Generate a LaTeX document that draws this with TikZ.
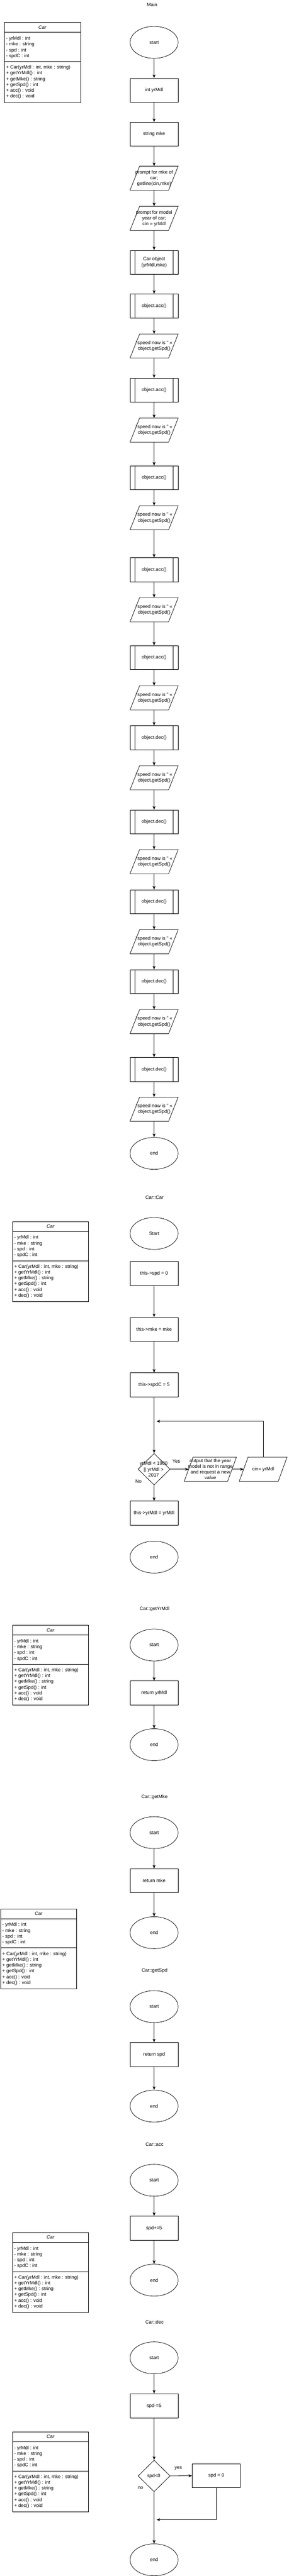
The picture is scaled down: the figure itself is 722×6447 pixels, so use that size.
\documentclass[tikz,border=0pt]{standalone}
\usepackage{fontspec}
\setmainfont{Liberation Sans}
\usetikzlibrary{shapes.geometric, arrows.meta, calc}

\newcommand{\CarBox}[3]{%
  \node[classbox, anchor=north west] (#1) at (#2,#3) {};
  \node[lbl, font=\fontsize{12}{14.4}\selectfont\itshape] at ($(#1.north)+(0,12.5)$) {Car};
  \draw[bx] ($(#1.north west)+(0,25)$) -- ($(#1.north east)+(0,25)$);
  \draw[bx] ($(#1.north west)+(0,98)$) -- ($(#1.north east)+(0,98)$);
  \foreach \t [count=\i from 0] in {{- yrMdl : int},{- mke : string},{- spd : int},{- spdC : int}}
    \node[clsline] at ($(#1.north west)+(4.5,40.5+14.6*\i)$) {\t};
  \foreach \t [count=\i from 0] in {{+ Car(yrMdl : int, mke : string)},{+ getYrMdl() : int},{+ getMke() : string},{+ getSpd() : int},{+ acc() : void},{+ dec() : void}}
    \node[clsline] at ($(#1.north west)+(4.5,113+14.5*\i)$) {\t};
}

\begin{document}
\begin{tikzpicture}[x=1pt, y=-1pt,
  every node/.style={font=\fontsize{12}{14.4}\selectfont},
  bx/.style={draw, line width=1pt},
  term/.style={bx, ellipse, minimum width=120pt, minimum height=80pt, inner sep=0pt},
  proc/.style={bx, rectangle, minimum width=120pt, minimum height=60pt, inner sep=0pt, align=center},
  sub/.style={proc, path picture={
      \draw[line width=1pt] ([xshift=12pt]path picture bounding box.north west) -- ([xshift=12pt]path picture bounding box.south west);
      \draw[line width=1pt] ([xshift=-12pt]path picture bounding box.north east) -- ([xshift=-12pt]path picture bounding box.south east);}},
  io/.style={rectangle, minimum width=120pt, minimum height=60pt, inner sep=0pt, align=center},
  decis/.style={bx, diamond, minimum width=80pt, minimum height=79pt, inner sep=0pt},
  arr/.style={line width=1pt, -{Stealth[length=9pt, width=7pt, inset=2.5pt]}},
  lbl/.style={inner sep=0pt},
  classbox/.style={bx, rectangle, minimum width=190pt, minimum height=200pt, inner sep=0pt},
  clsline/.style={anchor=west, inner sep=0pt, text height=9pt, text depth=2.5pt},
]
\fill[white] (0,0) rectangle (722,6447);
\useasboundingbox (0,0) rectangle (722,6447);

% ---------------- class boxes ----------------
\CarBox{cb1}{10.5}{56}
\CarBox{cb2}{30.8}{3057}
\CarBox{cb3}{30.8}{4067}
\CarBox{cb4}{1}{4777}
\CarBox{cb5}{30.8}{5587}
\CarBox{cb6}{30.8}{6086}

% ---------------- Main ----------------
\node[lbl] (tmain) at (380,12) {Main};
\node[term] (m0) at (385,106) {start};
\node[proc] (m1) at (385,226) {int yrMdl};
\node[proc] (m2) at (385,336) {string mke};
\node[io] (m3) at (385,446) {prompt for mke of\\car;\\getline(cin,mke)};
\node[io] (m4) at (385,546.5) {prompt for model\\year of car;\\cin >> yrMdl};
\node[sub] (m5) at (385,656.5) {Car object\\(yrMdl,mke)};
\node[sub] (a1) at (385,766) {object.acc()};
\node[io] (s1) at (385,866) {"speed now is " <<\\object.getSpd()};
\node[sub] (a2) at (385,976.5) {object.acc()};
\node[io] (s2) at (385,1076.5) {"speed now is " <<\\object.getSpd()};
\node[sub] (a3) at (385,1196) {object.acc()};
\node[io] (s3) at (385,1296) {"speed now is " <<\\object.getSpd()};
\node[sub] (a4) at (385,1426) {object.acc()};
\node[io] (s4) at (385,1526) {"speed now is " <<\\object.getSpd()};
\node[sub] (a5) at (385,1646) {object.acc()};
\node[io] (s5) at (385,1746.5) {"speed now is " <<\\object.getSpd()};
\node[sub] (b1) at (385,1846.5) {object.dec()};
\node[io] (s6) at (385,1946.5) {"speed now is " <<\\object.getSpd()};
\node[sub] (b2) at (385,2057) {object.dec()};
\node[io] (s7) at (385,2156.5) {"speed now is " <<\\object.getSpd()};
\node[sub] (b3) at (385,2257) {object.dec()};
\node[io] (s8) at (385,2357) {"speed now is " <<\\object.getSpd()};
\node[sub] (b4) at (385,2457) {object.dec()};
\node[io] (s9) at (385,2557) {"speed now is " <<\\object.getSpd()};
\node[sub] (b5) at (385,2676.5) {object.dec()};
\node[io] (s10) at (385,2776) {"speed now is " <<\\object.getSpd()};
\node[term] (mend) at (385,2886.5) {end};

\foreach \a/\b in {m0/m1,m1/m2,m2/m3,m3/m4,m4/m5,m5/a1,a1/s1,s1/a2,a2/s2,s2/a3,a3/s3,s3/a4,a4/s4,s4/a5,a5/s5,s5/b1,b1/s6,s6/b2,b2/s7,s7/b3,b3/s8,s8/b4,b4/s9,s9/b5,b5/s10,s10/mend}
  \draw[arr] (\a) -- (\b);

% ---------------- Car::Car ----------------
\node[lbl] (tcar) at (386,2997) {Car::Car};
\node[term] (c0) at (385,3087) {Start};
\node[proc] (c1) at (385,3187) {this->spd = 0};
\node[proc] (c2) at (385,3327) {this->mke = mke};
\node[proc] (c3) at (385,3466) {this->spdC = 5};
\node[decis] (cd) at (385,3677) {};
\node[lbl, align=center] (cdt) at (384,3677) {yrMdl < 1900\\|| yrMdl >\\2017};
\node[io, minimum width=130pt] (co) at (525.5,3677) {output that the year\\model is not in range\\and request a new\\value};
\node[io, minimum width=119pt] (ci) at (657.5,3677) {cin>> yrMdl};
\node[proc] (c4) at (385,3787) {this->yrMdl = yrMdl};
\node[term] (c5) at (385,3897) {end};
\coordinate (cl) at (391,3557);
\node[lbl] (cyes) at (440.5,3657) {Yes};
\node[lbl] (cno) at (346,3707) {No};

\draw[arr] (c1) -- (c2);
\draw[arr] (c2) -- (c3);
\draw[arr] (c3) -- (cd);
\draw[arr] (cd.south) -- (c4);
\draw[arr] (cd.east) -- ($(co.west)+(11,0)$);
\draw[arr] ($(co.east)+(-11,0)$) -- ($(ci.west)+(11,0)$);
\draw[arr] (ci.north) |- (cl);

% ---------------- Car::getYrMdl ----------------
\node[lbl] (tgy) at (386,4027) {Car::getYrMdl};
\node[term] (g0) at (385,4117) {start};
\node[proc] (g1) at (385,4237) {return yrMdl};
\node[term] (g2) at (385,4366.5) {end};
\draw[arr] (g0) -- (g1);
\draw[arr] (g1) -- (g2);

% ---------------- Car::getMke ----------------
\node[lbl] (tgm) at (386,4498) {Car::getMke};
\node[term] (k0) at (385,4586.5) {start};
\node[proc] (k1) at (385,4707) {return mke};
\node[term] (k2) at (385,4837) {end};
\draw[arr] (k0) -- (k1);
\draw[arr] (k1) -- (k2);

% ---------------- Car::getSpd ----------------
\node[lbl] (tgs) at (386,4932) {Car::getSpd};
\node[term] (p0) at (385,5022) {start};
\node[proc] (p1) at (385,5142) {return spd};
\node[term] (p2) at (385,5271) {end};
\draw[arr] (p0) -- (p1);
\draw[arr] (p1) -- (p2);

% ---------------- Car::acc ----------------
\node[lbl] (tacc) at (386,5367) {Car::acc};
\node[term] (q0) at (385,5456.5) {start};
\node[proc] (q1) at (385,5576.5) {spd+=5};
\node[term] (q2) at (385,5706.5) {end};
\draw[arr] (q0) -- (q1);
\draw[arr] (q1) -- (q2);

% ---------------- Car::dec ----------------
\node[lbl] (tdec) at (386,5811) {Car::dec};
\node[term] (r0) at (385,5901) {start};
\node[proc] (r1) at (385,6021) {spd-=5};
\node[decis] (rd) at (385,6196.5) {};
\node[lbl] (rdt) at (384,6196.5) {spd<0};
\node[proc] (rz) at (540.5,6196) {spd = 0};
\node[term] (r2) at (385,6406.5) {end};
\coordinate (rl) at (391,6306);
\node[lbl] (ryes) at (445.5,6177) {yes};
\node[lbl] (rno) at (351,6227) {no};

\draw[arr] (r0) -- (r1);
\draw[arr] (r1) -- (rd);
\draw[arr] (rd.south) -- (r2);
\draw[arr] (rd.east) -- (rz.west);
\draw[arr] (rz.south) |- (rl);

% ---------------- parallelogram outlines ----------------
\foreach \n/\s in {m3/24,m4/24,s1/24,s2/24,s3/24,s4/24,s5/24,s6/24,s7/24,s8/24,s9/24,s10/24,co/22,ci/22}
  \draw[bx] (\n.south west) -- ($(\n.south east)+(-\s,0)$) -- (\n.north east) -- ($(\n.north west)+(\s,0)$) -- cycle;

\end{tikzpicture}
\end{document}
